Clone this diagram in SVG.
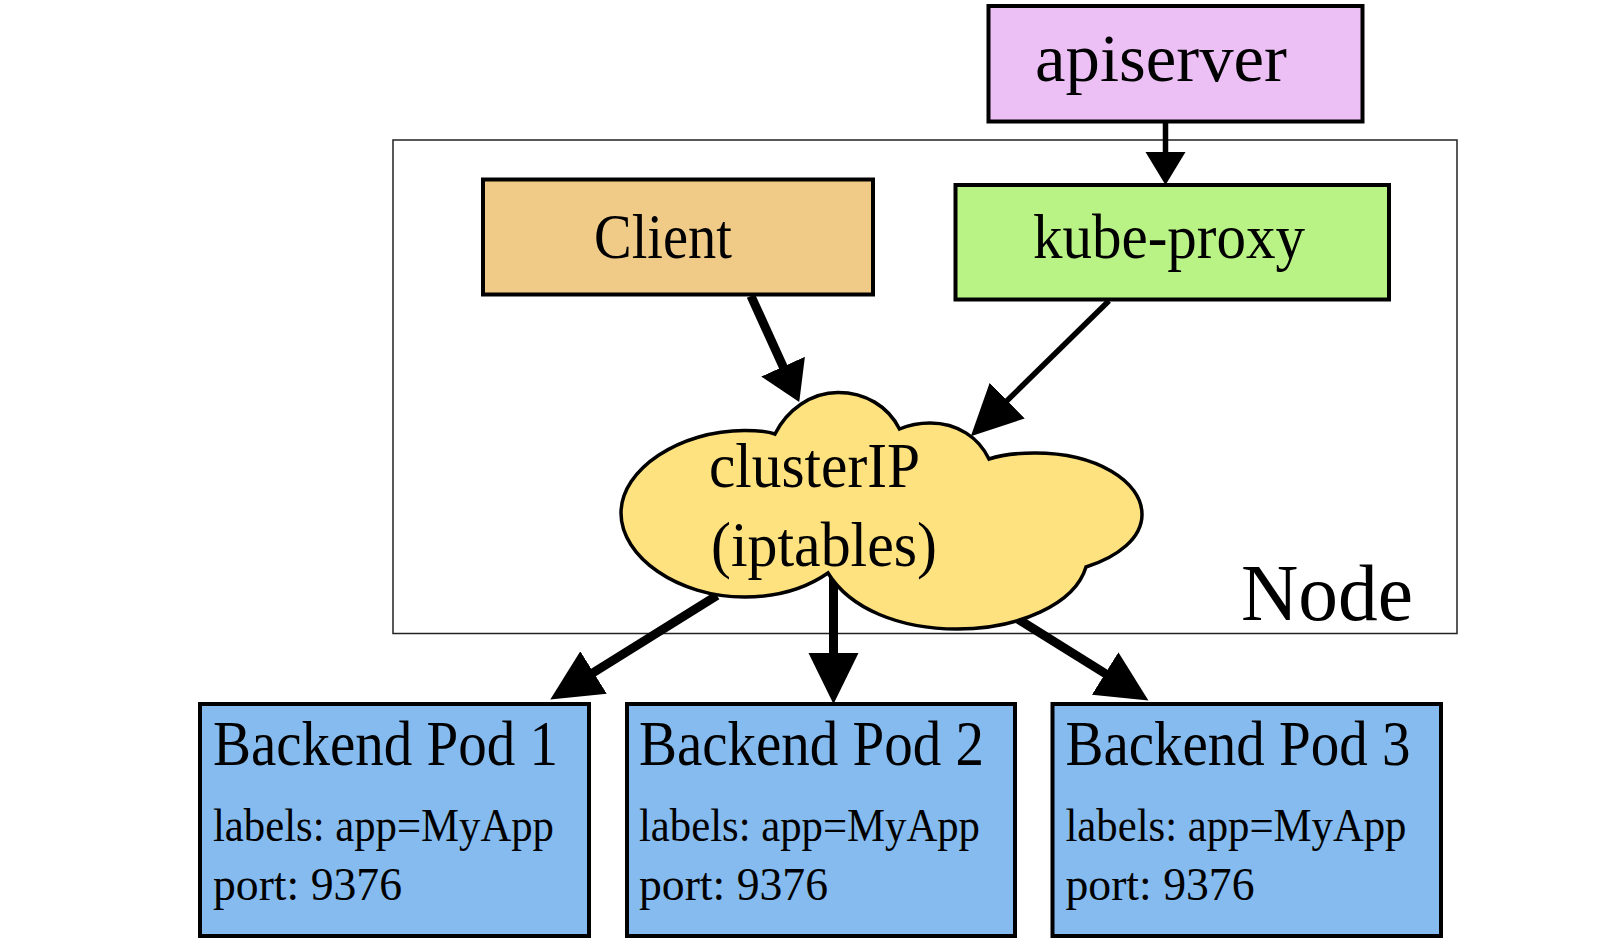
<svg xmlns="http://www.w3.org/2000/svg" width="1613" height="946" viewBox="0 0 1613 946">
<style>
text{font-family:"Liberation Serif","Times New Roman",serif;fill:#000}
.box{stroke:#000;stroke-width:4}
.pod{fill:#85bbee}
.c{stroke:#000;fill:none;stroke-width:9}
.t{stroke-width:5.5}
.h{font-size:64px}
.s{font-size:47px}
</style>
<defs>
<marker id="a1" markerUnits="userSpaceOnUse" markerWidth="34" markerHeight="42" refX="1" refY="21" orient="auto"><path d="M0 1L33 21L0 41Z"/></marker>
<marker id="a2" markerUnits="userSpaceOnUse" markerWidth="40" markerHeight="50" refX="1" refY="25" orient="auto"><path d="M0 1L39 25L0 49Z"/></marker>
<marker id="a3" markerUnits="userSpaceOnUse" markerWidth="52" markerHeight="54" refX="1" refY="27" orient="auto"><path d="M0 2L51 27L0 52Z"/></marker>
</defs>
<rect width="1613" height="946" fill="#fff"/>
<g id="node-frame">
<rect x="393" y="140" width="1064" height="493.5" fill="#fff" stroke="#222" stroke-width="1.5"/>
<text x="1241" y="619.5" font-size="80" textLength="172" lengthAdjust="spacingAndGlyphs">Node</text>
</g>
<g id="connectors">
<line class="c t" x1="1165.5" y1="121" x2="1165.5" y2="153" marker-end="url(#a1)"/>
<line class="c" x1="751" y1="296" x2="783.5" y2="367.5" marker-end="url(#a2)"/>
<line class="c t" x1="1109" y1="300.7" x2="1006.5" y2="401.3" marker-end="url(#a3)"/>
<line class="c" x1="717" y1="595.5" x2="592.7" y2="673" marker-end="url(#a3)"/>
<line class="c" x1="833.5" y1="575" x2="833.5" y2="654" marker-end="url(#a3)"/>
<line class="c" x1="1018.4" y1="619.4" x2="1106" y2="674" marker-end="url(#a3)"/>
</g>
<g id="apiserver">
<rect class="box" x="988.5" y="6" width="374" height="115.5" fill="#ecc0f5"/>
<text x="1035" y="80.5" font-size="68" textLength="252" lengthAdjust="spacingAndGlyphs">apiserver</text>
</g>
<g id="client">
<rect class="box" x="483" y="179.5" width="390" height="115" fill="#f0cb88"/>
<text class="h" x="594" y="258" textLength="138" lengthAdjust="spacingAndGlyphs">Client</text>
</g>
<g id="kube-proxy">
<rect class="box" x="955.5" y="185" width="433.5" height="114.5" fill="#b9f285"/>
<text class="h" x="1033" y="258" textLength="272" lengthAdjust="spacingAndGlyphs">kube-proxy</text>
</g>
<g id="clusterip">
<path d="M775 434C787 410 811 392.500 838 392.500C865 392.500 888 406 899.500 429C909 425 919 423 930 423C958 423 979 438 989 459C1004 454 1020 453 1035 453C1096 453 1142 481 1142 514.500C1142 538 1118 557 1086 567C1075 604 1019 629 957 629C900 629 850 609 828 573C805 589 775 597 744.500 597C678 597 621 557 621 513C621 469 680 430.500 744.500 430.500C756 430.500 766 431 775 434Z" fill="#fee27f" stroke="#000" stroke-width="3.500"/>
<text class="h" x="709" y="487" textLength="211" lengthAdjust="spacingAndGlyphs">clusterIP</text>
<text class="h" x="711" y="566" textLength="226" lengthAdjust="spacingAndGlyphs">(iptables)</text>
</g>
<g id="pod-1">
<rect class="box pod" x="200" y="704" width="389" height="232"/>
<text class="h" x="213" y="765" textLength="345" lengthAdjust="spacingAndGlyphs">Backend Pod 1</text>
<text class="s" x="213" y="841" textLength="341" lengthAdjust="spacingAndGlyphs">labels: app=MyApp</text>
<text class="s" x="213" y="900" textLength="189" lengthAdjust="spacingAndGlyphs">port: 9376</text>
</g>
<g id="pod-2">
<rect class="box pod" x="627" y="704" width="388" height="232"/>
<text class="h" x="639" y="765" textLength="345" lengthAdjust="spacingAndGlyphs">Backend Pod 2</text>
<text class="s" x="639" y="841" textLength="341" lengthAdjust="spacingAndGlyphs">labels: app=MyApp</text>
<text class="s" x="639" y="900" textLength="189" lengthAdjust="spacingAndGlyphs">port: 9376</text>
</g>
<g id="pod-3">
<rect class="box pod" x="1052.5" y="704" width="388.5" height="232"/>
<text class="h" x="1065.5" y="765" textLength="345" lengthAdjust="spacingAndGlyphs">Backend Pod 3</text>
<text class="s" x="1065.5" y="841" textLength="341" lengthAdjust="spacingAndGlyphs">labels: app=MyApp</text>
<text class="s" x="1065.5" y="900" textLength="189" lengthAdjust="spacingAndGlyphs">port: 9376</text>
</g>
</svg>
